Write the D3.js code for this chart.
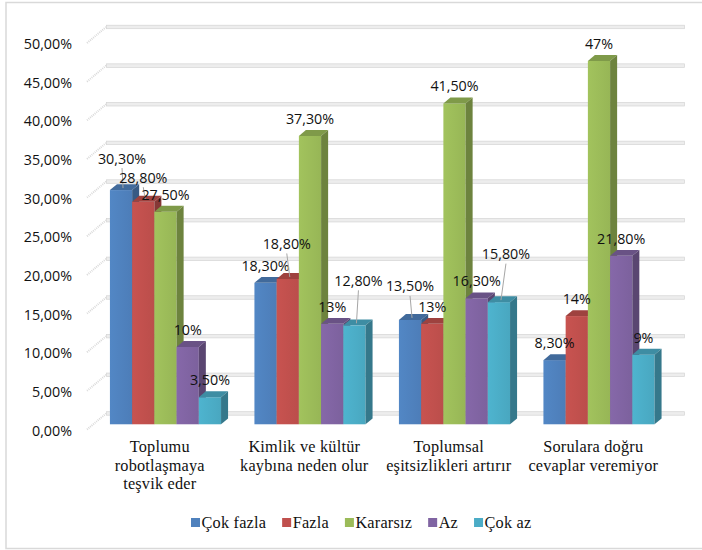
<!DOCTYPE html>
<html lang="tr">
<head>
<meta charset="utf-8">
<script src="https://cdn.jsdelivr.net/npm/d3@7"></script>
<style>
  html, body { margin: 0; padding: 0; background: #fff; }
  svg { display: block; }
</style>
</head>
<body>
<svg id="chart" width="702" height="550"></svg>
<script>
// Survey answers per statement, in percent
const categories = [
  "Toplumu\nrobotlaşmaya\nteşvik eder",
  "Kimlik ve kültür\nkaybına neden olur",
  "Toplumsal\neşitsizlikleri artırır",
  "Sorulara doğru\ncevaplar veremiyor"
];
const seriesNames = ["Çok fazla", "Fazla", "Kararsız", "Az", "Çok az"];
const cokFazla = [30.3, 18.3, 13.5, 8.3];
const fazla    = [28.8, 18.8, 13, 14];
const kararsiz = [27.5, 37.3, 41.5, 47];
const az       = [10, 13, 16.3, 21.8];
const cokAz    = [3.5, 12.8, 15.8, 9];
const yTicks   = [0, 5, 10, 15, 20, 25, 30, 35, 40, 45, 50];
const seriesValues = [cokFazla, fazla, kararsiz, az, cokAz];
const colors = ["#4F81BD", "#C0504D", "#9BBB59", "#8064A2", "#4BACC6"];

const svg = d3.select("#chart");

// oblique 3D projection: front plane -> back wall
const depth = { dx: 19.5, dy: -16.3 };
const barPlane = 0.32;      // where bars stand inside the floor depth
const barDepth = 0.36;      // thickness of each column
const off = { dx: depth.dx * barPlane, dy: depth.dy * barPlane };
const bd = { dx: depth.dx * barDepth, dy: depth.dy * barDepth };

const yFront = d3.scaleLinear().domain([0, 50]).range([429.5, 43]);
const yBar = d3.scaleLinear().domain([0, 50])
  .range([yFront(0) + off.dy, yFront(50) + off.dy]);

const x = d3.scaleBand().domain(d3.range(categories.length))
  .range([87, 665]).paddingInner(0.231).paddingOuter(0.1155);
const xs = d3.scaleBand().domain(d3.range(seriesNames.length))
  .range([0, x.bandwidth()]);

// outer frame
svg.append("rect")
  .attr("x", 6).attr("y", 2.5).attr("width", 705).attr("height", 546)
  .attr("fill", "#fff").attr("stroke", "#d9d9d9").attr("stroke-width", 1.5);

const wallX0 = x.range()[0], wallX1 = x.range()[1];

// back wall gridlines
const grid = svg.append("g");
yTicks.forEach(t => {
  const yb = yFront(t) + depth.dy;
  grid.append("rect")
    .attr("x", wallX0 + depth.dx).attr("y", yb - 1.5)
    .attr("width", wallX1 - wallX0).attr("height", 3.5)
    .attr("fill", "#ededed").attr("stroke", "#d4d4d4").attr("stroke-width", 0.7);
  // side wall lines
  grid.append("line")
    .attr("x1", wallX0).attr("y1", yFront(t))
    .attr("x2", wallX0 + depth.dx).attr("y2", yb)
    .attr("stroke", "#dadada").attr("stroke-width", 2)
    .attr("stroke-dasharray", "1 1");
});

// value axis labels
const fmtTick = v => v.toFixed(2).replace(".", ",") + "%";
svg.append("g").selectAll("text").data(yTicks).join("text")
  .attr("x", 72).attr("y", d => yFront(d) + 0.5)
  .attr("text-anchor", "end").attr("dominant-baseline", "central")
  .attr("font-family", "'Open Sans', sans-serif").attr("font-size", 14.3)
  .attr("fill", "#111")
  .text(fmtTick);

// columns
const bars = svg.append("g");
categories.forEach((c, ci) => {
  seriesNames.forEach((s, si) => {
    const v = seriesValues[si][ci];
    const x0 = x(ci) + xs(si) + off.dx;
    const x1 = x0 + xs.bandwidth();
    const y0 = yBar(0), y1 = yBar(v);
    const base = d3.color(colors[si]);
    const grad = "g" + ci + "_" + si;
    const lg = svg.append("defs").append("linearGradient").attr("id", grad)
      .attr("x1", "0").attr("x2", "1").attr("y1", "0").attr("y2", "0");
    lg.append("stop").attr("offset", "0").attr("stop-color", base.brighter(0.12));
    lg.append("stop").attr("offset", "1").attr("stop-color", base.darker(0.08));
    bars.append("rect")
      .attr("x", x0).attr("y", y1).attr("width", x1 - x0).attr("height", y0 - y1)
      .attr("fill", "url(#" + grad + ")");
    bars.append("polygon")
      .attr("points", [[x0, y1], [x0 + bd.dx, y1 + bd.dy], [x1 + bd.dx, y1 + bd.dy], [x1, y1]].join(" "))
      .attr("fill", base.darker(0.55));
    bars.append("polygon")
      .attr("points", [[x1, y1], [x1 + bd.dx, y1 + bd.dy], [x1 + bd.dx, y0 + bd.dy], [x1, y0]].join(" "))
      .attr("fill", base.darker(1.0));
  });
});

// data labels; a few are lifted clear of neighbours and get a leader line
const fmtVal = v => Number.isInteger(v) ? v + "%" : v.toFixed(2).replace(".", ",") + "%";
const lift = {
  "0-0": [1, -14.5], "0-1": [0, -7], "1-1": [-1, -18],
  "1-4": [4, -27.5], "2-0": [0, -16.5], "2-4": [7, -31]
};
const labels = svg.append("g");
categories.forEach((c, ci) => {
  seriesNames.forEach((s, si) => {
    const v = seriesValues[si][ci];
    const cx = x(ci) + xs(si) + off.dx + xs.bandwidth() / 2;
    const top = yBar(v);
    const n = lift[ci + "-" + si] || [0, 0];
    const lx = cx + n[0], ly = top - 17.5 + n[1];
    if (lift[ci + "-" + si]) {
      labels.append("line")
        .attr("x1", lx).attr("y1", ly + 10)
        .attr("x2", cx + 2).attr("y2", top - 2)
        .attr("stroke", "#a6a6a6").attr("stroke-width", 1);
    }
    labels.append("text")
      .attr("x", lx).attr("y", ly)
      .attr("text-anchor", "middle").attr("dominant-baseline", "central")
      .attr("font-family", "'Open Sans', sans-serif").attr("font-size", 14.3)
      .attr("fill", "#111")
      .text(fmtVal(v));
  });
});

// category labels
const catG = svg.append("g");
categories.forEach((c, ci) => {
  const t = catG.append("text")
    .attr("x", x(ci) + x.bandwidth() / 2 + 0.5).attr("y", 452)
    .attr("text-anchor", "middle")
    .attr("font-family", "'Liberation Serif', 'Times New Roman', serif")
    .attr("font-size", 16.3).attr("letter-spacing", 0.2).attr("fill", "#111");
  c.split("\n").forEach((line, li) => {
    t.append("tspan").attr("x", x(ci) + x.bandwidth() / 2 + 0.5)
      .attr("dy", li === 0 ? 0 : 18.5).text(line);
  });
});

// legend
const leg = svg.append("g");
let lx = 191;
seriesNames.forEach((s, si) => {
  leg.append("rect").attr("x", lx).attr("y", 518).attr("width", 9).attr("height", 9)
    .attr("fill", colors[si]);
  const t = leg.append("text").attr("x", lx + 10.5).attr("y", 527.5)
    .attr("font-family", "'Liberation Serif', 'Times New Roman', serif")
    .attr("font-size", 16.3).attr("letter-spacing", 0.2).attr("fill", "#111")
    .text(s);
  lx += 10.5 + t.node().getComputedTextLength() + 16;
});
</script>
</body>
</html>
